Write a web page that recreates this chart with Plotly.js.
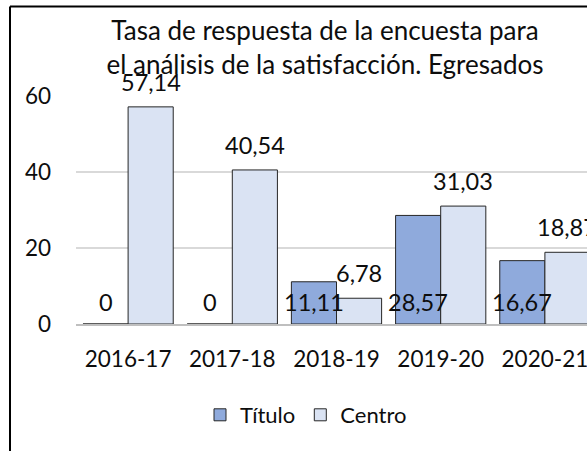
<!DOCTYPE html>
<html>
<head>
<meta charset="utf-8">
<script src="https://cdn.plot.ly/plotly-3.0.1.min.js"></script>
<style>
  html, body { margin: 0; padding: 0; background: #fff; }
  #chart { width: 587px; height: 451px; }
</style>
</head>
<body>
<div id="chart"></div>
<script>
const categories = ["2016-17", "2017-18", "2018-19", "2019-20", "2020-21"];
const tituloValues = [0, 0, 11.11, 28.57, 16.67];
const centroValues = [57.14, 40.54, 6.78, 31.03, 18.87];
const seriesNames = ["Título", "Centro"];
const yTicks = [0, 20, 40, 60];

const fmt = v => v.toFixed(2).replace(/\.00$/, "").replace(".", ",");
const FONT = "Lato, 'Open Sans', sans-serif";
const TXT = "#0d0d0d";

const traceTitulo = {
  type: "bar", name: seriesNames[0], x: categories.map((c, i) => i), y: tituloValues,
  marker: { color: "#8FAADC", line: { color: "#262626", width: 1 } },
  hoverinfo: "none"
};
const traceCentro = {
  type: "bar", name: seriesNames[1], x: categories.map((c, i) => i), y: centroValues,
  marker: { color: "#DAE3F3", line: { color: "#262626", width: 1 } },
  hoverinfo: "none"
};

const off = 0.216;
const annotations = [];
tituloValues.forEach((v, i) => annotations.push({
  x: i - off, y: 0, xref: "x", yref: "y", text: fmt(v), showarrow: false,
  yanchor: "middle", yshift: 22, font: { family: FONT, size: 23.5, color: TXT }
}));
centroValues.forEach((v, i) => annotations.push({
  x: i + off, y: v, xref: "x", yref: "y", text: fmt(v), showarrow: false,
  yanchor: "middle", yshift: 25, font: { family: FONT, size: 23.5, color: TXT }
}));

const layout = {
  width: 587, height: 451,
  margin: { l: 76, r: 0, t: 96, b: 127, pad: 0 },
  paper_bgcolor: "#ffffff", plot_bgcolor: "#ffffff",
  font: { family: FONT, color: TXT },
  title: {
    text: "Tasa de respuesta de la encuesta para<br>el análisis de la satisfacción. Egresados",
    font: { family: FONT, size: 26, color: TXT },
    x: 325 / 587, xanchor: "center", xref: "container",
    y: 1 - 40 / 451, yanchor: "top", yref: "container"
  },
  barmode: "group", bargap: 0.134, bargroupgap: 0,
  xaxis: {
    type: "linear", range: [-0.5, 4.404],
    tickmode: "array", tickvals: categories.map((c, i) => i), ticktext: categories,
    showgrid: false, zeroline: false, showline: true, linecolor: "#BFBFBF", linewidth: 2,
    ticks: "", ticklabelstandoff: 14, ticklabeloverflow: "allow",
    tickfont: { family: FONT, size: 22.5, color: TXT }, fixedrange: true
  },
  yaxis: {
    range: [0, 60], tickmode: "array", tickvals: yTicks,
    showgrid: true, gridcolor: "#D9D9D9", gridwidth: 2,
    zeroline: false, showline: false, ticks: "", ticklabelstandoff: 24,
    tickfont: { family: FONT, size: 22.5, color: TXT }, fixedrange: true
  },
  showlegend: true,
  legend: {
    orientation: "h", x: (306 - 76) / 511, xanchor: "center",
    y: (324 - 415) / 228, yanchor: "middle",
    font: { family: FONT, size: 22, color: TXT }, itemclick: false, itemdoubleclick: false,
    traceorder: "normal"
  },
  annotations: annotations,
  shapes: [
    { type: "line", xref: "paper", yref: "paper", x0: (10 - 76) / 511, x1: 1.2,
      y0: (324 - 6.5) / 228, y1: (324 - 6.5) / 228, line: { color: "#000", width: 2 } },
    { type: "line", xref: "paper", yref: "paper", x0: (10 - 76) / 511, x1: (10 - 76) / 511,
      y0: (324 - 6.5) / 228, y1: -0.7, line: { color: "#000", width: 2 } }
  ]
};

Plotly.newPlot("chart", [traceTitulo, traceCentro], layout, { displayModeBar: false, staticPlot: true });
</script>
</body>
</html>
